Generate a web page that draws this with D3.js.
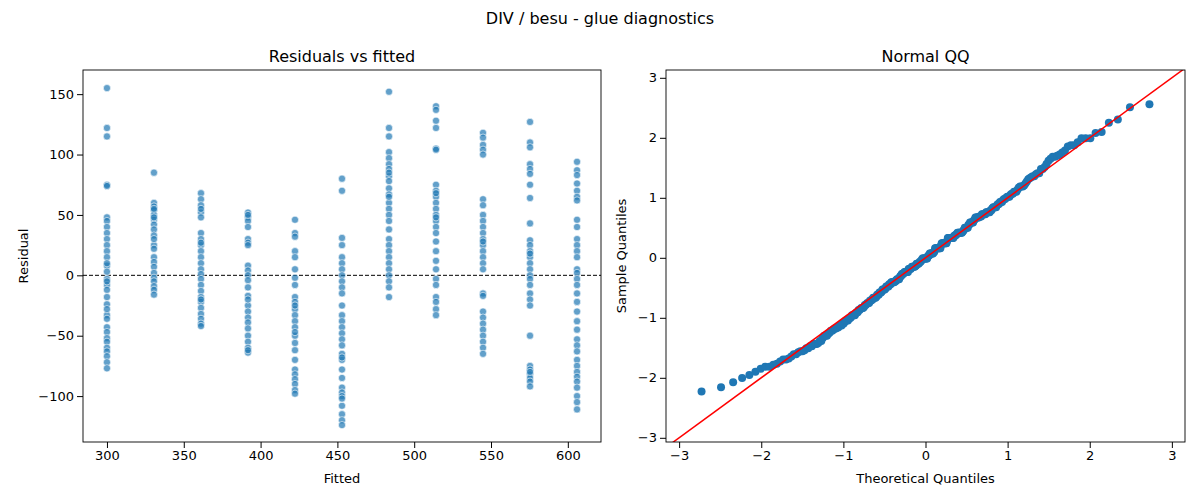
<!DOCTYPE html>
<html>
<head>
<meta charset="UTF-8">
<script src="https://d3js.org/d3.v7.min.js"></script>
<style>
body { margin: 0; background: #fff; }
text { font-family: "DejaVu Sans", sans-serif; }
</style>
</head>
<body>
<svg width="1200" height="500"></svg>
<script>
// fitted levels (one column of residuals each)
var fitted = [300, 330.6, 361.2, 391.8, 422.4, 453, 483.6, 514.2, 544.8, 575.4, 606];
var residuals = [
  [155, 122, 115, 75, 74, 48, 45, 40, 35, 30, 25, 20, 15, 8, 3, -3, -8, -12, -18, -24, -33, -36, -43, -47, -52, -55, -60, -63, -67, -72, -77, -5, -28, 10],
  [85, 60, 57, 54, 50, 46, 42, 38, 33, 25, 22, 15, 11, 7, 2, -2, -5, -9, -12, -16, 55, 48, 30],
  [68, 63, 58, 52, 48, 35, 30, 25, 20, 15, 10, 5, 1, -3, -8, -13, -18, -22, -27, -32, -36, -40, -42, 55, -20, 27],
  [52, 48, 45, 40, 30, 27, 25, 8, 4, 0, -4, -10, -17, -25, -30, -35, -39, -44, -50, -55, -60, -64, 50, -62, -20],
  [46, 35, 32, 20, 15, 5, -2, -8, -18, -22, -28, -33, -38, -43, -50, -56, -62, -70, -78, -82, -86, -90, -95, -98, -25, -47],
  [80, 70, 31, 25, 15, 10, 5, 0, -5, -10, -15, -25, -33, -38, -43, -48, -53, -58, -65, -70, -78, -85, -93, -97, -100, -108, -115, -120, -124, -68, -102],
  [152, 122, 115, 102, 97, 92, 88, 82, 78, 72, 67, 60, 55, 50, 45, 38, 30, 25, 20, 15, 10, 5, 0, -5, -10, -18, 85, 65],
  [140, 137, 128, 122, 105, 104, 75, 70, 65, 60, 55, 50, 45, 40, 35, 28, 20, 12, 5, -3, -8, -18, -22, -28, -33, 48, 68],
  [118, 114, 108, 104, 100, 63, 58, 50, 45, 40, 35, 30, 25, 20, 15, 10, 5, -15, -17, -30, -35, -40, -45, -50, -55, -60, -65, 28],
  [127, 110, 106, 92, 88, 84, 75, 64, 43, 29, 25, 20, 15, 10, 5, 0, -3, -8, -15, -20, -25, -50, -75, -78, -82, -85, -88, -92, -80, 18],
  [94, 87, 83, 76, 70, 65, 62, 46, 40, 30, 25, 20, 15, 5, 2, -3, -8, -15, -22, -30, -38, -45, -53, -58, -63, -70, -75, -80, -84, -88, -93, -100, -105, -111]
];
var leftXTicks = [300, 350, 400, 450, 500, 550, 600];
var leftYTicks = [-100, -50, 0, 50, 100, 150];
var qqTicks = [-3, -2, -1, 0, 1, 2, 3];

var svg = d3.select("svg");
var blue = "#1f77b4";

svg.append("text").attr("x", 600).attr("y", 24).attr("text-anchor", "middle")
  .style("font-size", "16px").text("DIV / besu - glue diagnostics");

function frame(g, x, y, xt, yt, title, xl, yl, left, top, w, h, fmt) {
  g.append("g").attr("transform", `translate(0,${top + h})`)
    .call(d3.axisBottom(x).tickValues(xt).tickSizeOuter(0).tickFormat(fmt))
    .call(a => a.select(".domain").remove());
  g.append("g").attr("transform", `translate(${left},0)`)
    .call(d3.axisLeft(y).tickValues(yt).tickSizeOuter(0).tickFormat(fmt))
    .call(a => a.select(".domain").remove());
  g.selectAll(".tick text").style("font-size", "13px").attr("fill", "#000");
  g.selectAll(".tick line").attr("stroke", "#000");
  g.append("rect").attr("x", left).attr("y", top).attr("width", w).attr("height", h)
    .attr("fill", "none").attr("stroke", "#000").attr("stroke-width", 0.9);
  g.append("text").attr("x", left + w / 2).attr("y", top - 8).attr("text-anchor", "middle")
    .style("font-size", "16px").text(title);
  g.append("text").attr("x", left + w / 2).attr("y", top + h + 41).attr("text-anchor", "middle")
    .style("font-size", "13px").text(xl);
  g.append("text").attr("transform", `translate(${left - 55},${top + h / 2}) rotate(-90)`)
    .attr("text-anchor", "middle").style("font-size", "13px").text(yl);
}
var minus = d => String(d).replace("-", "\u2212");

// left panel
var L = {left: 83, top: 70, w: 518, h: 372};
var x1 = d3.scaleLinear().domain([284.4, 621.6]).range([L.left, L.left + L.w]);
var y1 = d3.scaleLinear().domain([-138, 170]).range([L.top + L.h, L.top]);
var g1 = svg.append("g");
var pts = [];
residuals.forEach((col, i) => col.forEach(r => pts.push([fitted[i], r])));
g1.append("line").attr("x1", L.left).attr("x2", L.left + L.w).attr("y1", y1(0)).attr("y2", y1(0))
  .attr("stroke", "#000").attr("stroke-dasharray", "4,2").attr("stroke-width", 1);
g1.selectAll("circle").data(pts).enter().append("circle")
  .attr("cx", d => x1(d[0])).attr("cy", d => y1(d[1])).attr("r", 3.6)
  .attr("fill", blue).attr("fill-opacity", 0.7).attr("stroke", "#fff").attr("stroke-width", 0.6);
frame(g1, x1, y1, leftXTicks, leftYTicks, "Residuals vs fitted", "Fitted", "Residual", L.left, L.top, L.w, L.h, minus);

// QQ panel
function invNorm(p) {
  var a = [-39.69683028665376, 220.9460984245205, -275.9285104469687, 138.3577518672690, -30.66479806614716, 2.506628277459239];
  var b = [-54.47609879822406, 161.5858368580409, -155.6989798598866, 66.80131188771972, -13.28068155288572];
  var c = [-0.007784894002430293, -0.3223964580411365, -2.400758277161838, -2.549732539343734, 4.374664141464968, 2.938163982698783];
  var d = [0.007784695709041462, 0.3224671290700398, 2.445134137142996, 3.754408661907416];
  var q, r;
  if (p < 0.02425) { q = Math.sqrt(-2 * Math.log(p));
    return (((((c[0]*q+c[1])*q+c[2])*q+c[3])*q+c[4])*q+c[5]) / ((((d[0]*q+d[1])*q+d[2])*q+d[3])*q+1); }
  if (p > 1 - 0.02425) { q = Math.sqrt(-2 * Math.log(1 - p));
    return -(((((c[0]*q+c[1])*q+c[2])*q+c[3])*q+c[4])*q+c[5]) / ((((d[0]*q+d[1])*q+d[2])*q+d[3])*q+1); }
  q = p - 0.5; r = q * q;
  return (((((a[0]*r+a[1])*r+a[2])*r+a[3])*r+a[4])*r+a[5])*q / (((((b[0]*r+b[1])*r+b[2])*r+b[3])*r+b[4])*r+1);
}
var all = pts.map(p => p[1]).sort(d3.ascending);
var mu = d3.mean(all), sd = d3.deviation(all), n = all.length;
var qq = all.map((v, i) => [invNorm((i + 1) / (n + 1)), (v - mu) / sd]);

var R = {left: 666, top: 70, w: 519, h: 372};
var x2 = d3.scaleLinear().domain([-3.16, 3.16]).range([R.left, R.left + R.w]);
var y2 = d3.scaleLinear().domain([-3.07, 3.13]).range([R.top + R.h, R.top]);
var g2 = svg.append("g");
g2.append("clipPath").attr("id", "qc").append("rect")
  .attr("x", R.left).attr("y", R.top).attr("width", R.w).attr("height", R.h);
g2.selectAll("circle").data(qq).enter().append("circle")
  .attr("cx", d => x2(d[0])).attr("cy", d => y2(d[1])).attr("r", 4).attr("fill", blue);
g2.append("line").attr("clip-path", "url(#qc)")
  .attr("x1", x2(-3.5)).attr("y1", y2(-3.5)).attr("x2", x2(3.5)).attr("y2", y2(3.5))
  .attr("stroke", "red").attr("stroke-width", 1.5);
frame(g2, x2, y2, qqTicks, qqTicks, "Normal QQ", "Theoretical Quantiles", "Sample Quantiles", R.left, R.top, R.w, R.h, minus);
g2.select("text[transform]").attr("transform", `translate(${R.left - 40},${R.top + R.h / 2}) rotate(-90)`);
</script>
</body>
</html>
